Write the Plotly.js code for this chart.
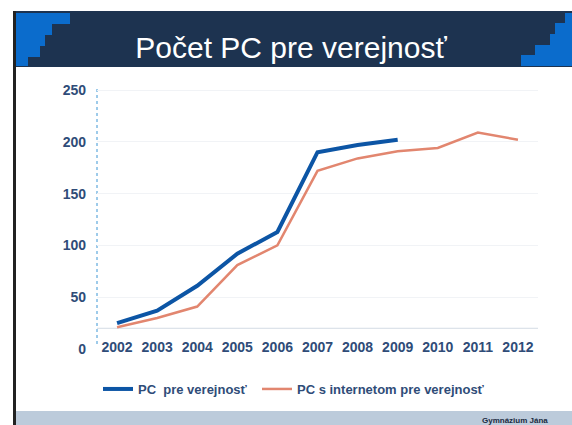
<!DOCTYPE html>
<html>
<head>
<meta charset="utf-8">
<script src="https://cdn.plot.ly/plotly-3.0.1.min.js"></script>
<style>
  html, body { margin: 0; padding: 0; background: #ffffff; }
  #chart { width: 572px; height: 425px; }
</style>
</head>
<body>
<div id="chart"></div>
<script>
// ---- data ----
var years = [2002, 2003, 2004, 2005, 2006, 2007, 2008, 2009, 2010, 2011, 2012];
var pcPublic = [25, 37, 61, 92, 113, 190, 197, 202];
var pcInternet = [21, 30, 41, 81, 100, 172, 184, 191, 194, 209, 202];
var yTicks = [0, 50, 100, 150, 200, 250];
var seriesNames = ['PC  pre verejnosť', 'PC s internetom pre verejnosť'];
var titleText = 'Počet PC pre verejnosť';

// ---- layout geometry ----
var W = 572, H = 425;
var mL = 97, mR = 34, mT = 89, mB = 76;
var plotW = W - mL - mR, plotH = H - mT - mB;
function px(x) { return (x - mL) / plotW; }
function py(y) { return (H - mB - y) / plotH; }

var shapes = [];
function rect(x0, y0, x1, y1, color) {
  shapes.push({type: 'rect', xref: 'paper', yref: 'paper', layer: 'below',
    x0: px(x0), x1: px(x1), y0: py(y1), y1: py(y0),
    fillcolor: color, line: {width: 0}});
}
// banner
rect(13, 11, 572, 67, '#1d3350');
// left staircase of blue squares
var blue = '#0b6ccc';
rect(15, 13, 70, 24, blue);
rect(15, 24, 52, 35, blue);
rect(15, 35, 45, 46, blue);
rect(15, 46, 40, 57, blue);
rect(15, 57, 28, 66, blue);
// right staircase
rect(565, 13, 572, 23, blue);
rect(555, 23, 572, 34, blue);
rect(550, 34, 572, 45, blue);
rect(535, 45, 572, 55, blue);
rect(521, 55, 572, 66, blue);
// left slide border
rect(13, 11, 16, 425, '#222222');
// bottom strip
rect(16, 411, 572, 425, '#bccbdb');

// y axis dotted line
shapes.push({type: 'line', xref: 'paper', yref: 'paper', layer: 'below',
  x0: 0, x1: 0, y0: py(344), y1: 1, line: {color: '#7fbbe3', width: 1.5, dash: 'dot'}});
// faint x axis line
shapes.push({type: 'line', xref: 'paper', yref: 'y', layer: 'below',
  x0: 0, x1: 1, y0: 20, y1: 20, line: {color: '#d3dbe4', width: 1}});

var traces = [
  {x: years.slice(0, pcPublic.length), y: pcPublic, name: seriesNames[0], mode: 'lines',
   line: {color: '#0c55a5', width: 4}, legend: 'legend'},
  {x: years, y: pcInternet, name: seriesNames[1], mode: 'lines',
   line: {color: '#e2866f', width: 2.5}, legend: 'legend2'}
];

var tickFont = {family: 'Arial, Liberation Sans, sans-serif', size: 14, color: '#2f4c78', weight: 'bold'};
var legendFont = {family: 'Arial, Liberation Sans, sans-serif', size: 13, color: '#2f4c78', weight: 'bold'};

var layout = {
  width: W, height: H,
  margin: {l: mL, r: mR, t: mT, b: mB, pad: 0},
  paper_bgcolor: '#ffffff',
  plot_bgcolor: 'rgba(0,0,0,0)',
  title: {text: titleText, x: 291 / W, xanchor: 'center', xref: 'container',
    y: 1 - 47 / H, yanchor: 'middle', yref: 'container',
    font: {family: 'Arial, Liberation Sans, sans-serif', size: 30, color: '#ffffff'}},
  xaxis: {range: [2001.5, 2012.5], tickmode: 'array', tickvals: years,
    ticktext: years.map(String), showgrid: false, zeroline: false, showline: false,
    ticks: '', tickfont: tickFont, ticklabelstandoff: -12},
  yaxis: {range: [0, 251], tickmode: 'array', tickvals: yTicks,
    showgrid: true, gridcolor: '#f1f3f6', gridwidth: 1, zeroline: false, showline: false,
    ticks: '', tickfont: tickFont, ticklabelstandoff: 10},
  showlegend: true,
  legend: {orientation: 'h', x: px(98), xanchor: 'left', y: py(389), yanchor: 'middle',
    font: legendFont, itemwidth: 30, bgcolor: 'rgba(0,0,0,0)'},
  legend2: {orientation: 'h', x: px(257), xanchor: 'left', y: py(389), yanchor: 'middle',
    font: legendFont, itemwidth: 30, bgcolor: 'rgba(0,0,0,0)'},
  shapes: shapes,
  annotations: [{text: 'Gymnázium Jána', xref: 'paper', yref: 'paper', x: px(550), y: py(420),
    xanchor: 'right', yanchor: 'middle', showarrow: false,
    font: {family: 'Arial, sans-serif', size: 8, color: '#1a2a40', weight: 'bold'}}]
};

Plotly.newPlot('chart', traces, layout, {displayModeBar: false, staticPlot: true});
</script>
</body>
</html>
